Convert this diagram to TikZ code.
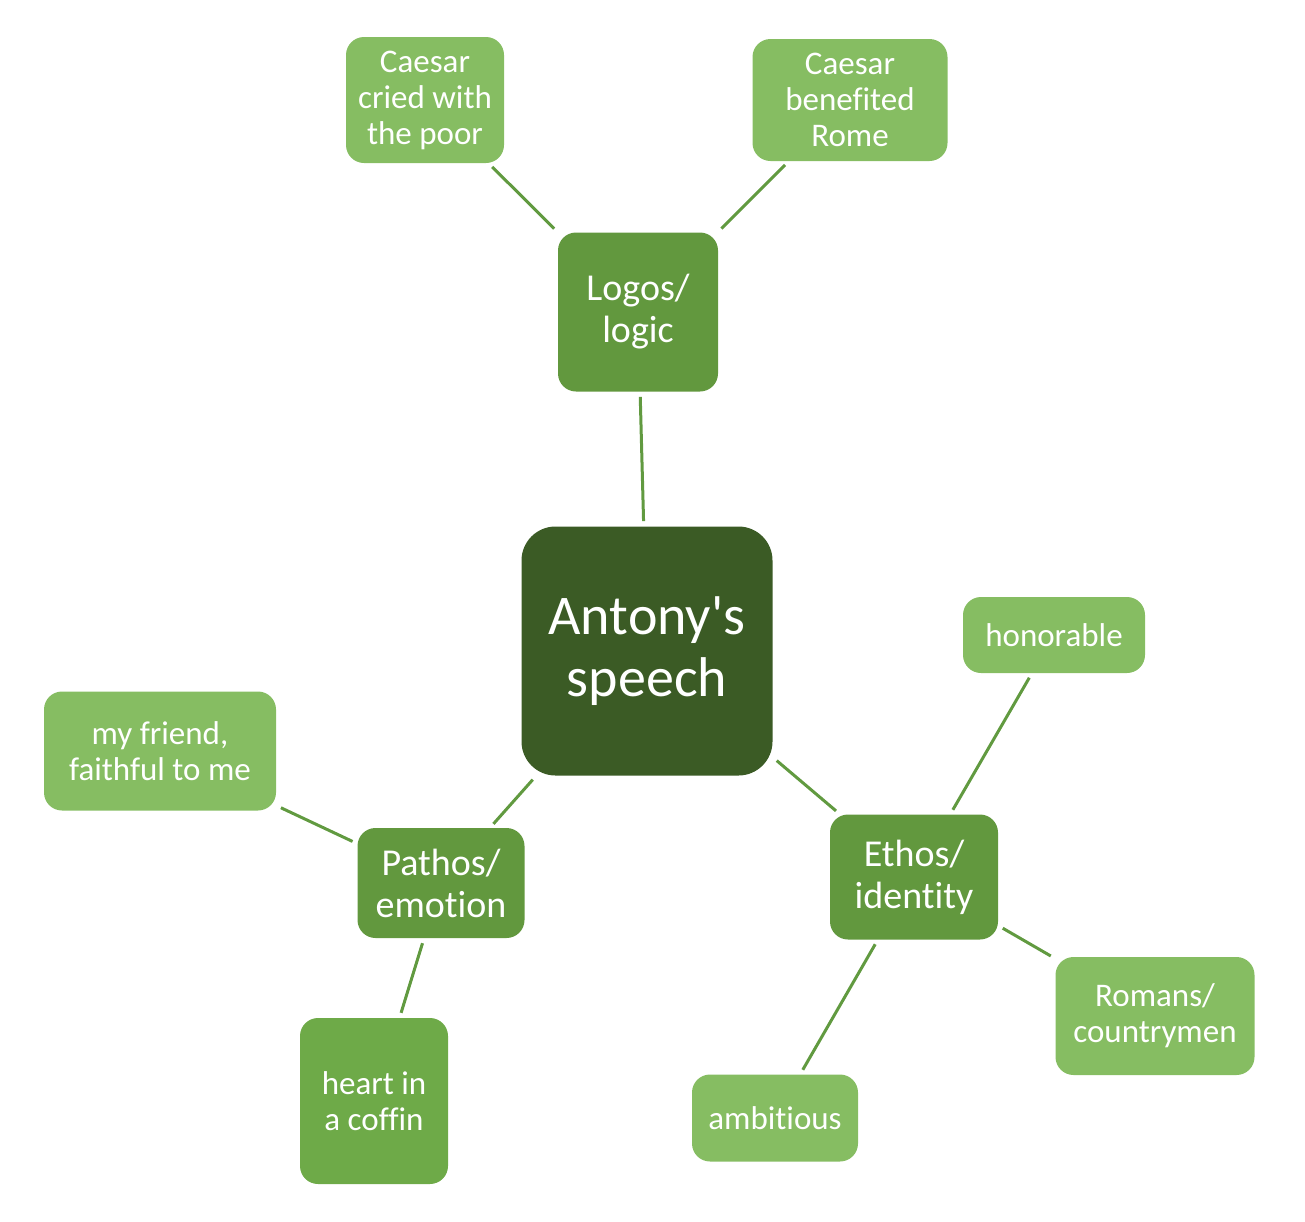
\documentclass[tikz,border=0pt]{standalone}
\usepackage{fontspec}
\setmainfont{Carlito}[Ligatures=NoCommon]
\definecolor{hubgreen}{HTML}{3B5B25}
\definecolor{appealgreen}{HTML}{62983E}
\definecolor{detailgreen}{HTML}{86BD62}
\definecolor{coffingreen}{HTML}{6EAA48}
\definecolor{linkgreen}{HTML}{619A40}
\begin{document}
\begin{tikzpicture}[x=0.5pt, y=-0.5pt,
  hub/.style={fill=hubgreen, rounded corners=17pt, text=white, align=center,
              inner sep=0pt, font=\fontsize{28}{31}\selectfont},
  appeal/.style={fill=appealgreen, rounded corners=9pt, text=white, align=center,
              inner sep=0pt, font=\fontsize{19}{21}\selectfont},
  detail/.style={fill=detailgreen, rounded corners=9pt, text=white, align=center,
              inner sep=0pt, font=\fontsize{16.5}{18}\selectfont},
  link/.style={draw=linkgreen, line width=1.5pt, shorten <=2.5pt, shorten >=2.5pt}]
  \useasboundingbox (0,0) rectangle (1305,1221);

  \node (speech) [hub, minimum width=125.5pt, minimum height=124.5pt] at (647,651)
        {Antony\textquotesingle s\\speech};

  \node (logos) [appeal, minimum width=80pt, minimum height=79.5pt] at (638,312)
        {Logos/\\logic};
  \node (pathos) [appeal, minimum width=83.5pt, minimum height=55pt] at (441,883)
        {Pathos/\\emotion};
  \node (ethos) [appeal, minimum width=84pt, minimum height=62.5pt] at (914,877)
        {Ethos/\\identity};

  \node (cried) [detail, minimum width=79pt, minimum height=63pt] at (425,100)
        {Caesar\\cried with\\the poor};
  \node (benefit) [detail, minimum width=97.5pt, minimum height=61pt] at (850,100)
        {Caesar\\benefited\\Rome};
  \node (friend) [detail, minimum width=116pt, minimum height=59.5pt] at (160,751)
        {my friend,\\faithful to me};
  \node (coffin) [detail, fill=coffingreen, minimum width=74pt, minimum height=83pt]
        at (374,1101) {heart in\\a coffin};
  \node (honor) [detail, minimum width=91pt, minimum height=38pt] at (1054,635)
        {honorable};
  \node (romans) [detail, minimum width=99.5pt, minimum height=59pt] at (1155,1016)
        {Romans/\\countrymen};
  \node (ambit) [detail, minimum width=83pt, minimum height=43.5pt] at (775,1118)
        {ambitious};

  \draw[link] (speech) -- (logos);
  \draw[link] (speech) -- (pathos);
  \draw[link] (speech) -- (ethos);
  \draw[link] (logos) -- (cried);
  \draw[link] (logos) -- (benefit);
  \draw[link] (pathos) -- (friend);
  \draw[link] (pathos) -- (coffin);
  \draw[link] (ethos) -- (honor);
  \draw[link] (ethos) -- (romans);
  \draw[link] (ethos) -- (ambit);
\end{tikzpicture}
\end{document}
